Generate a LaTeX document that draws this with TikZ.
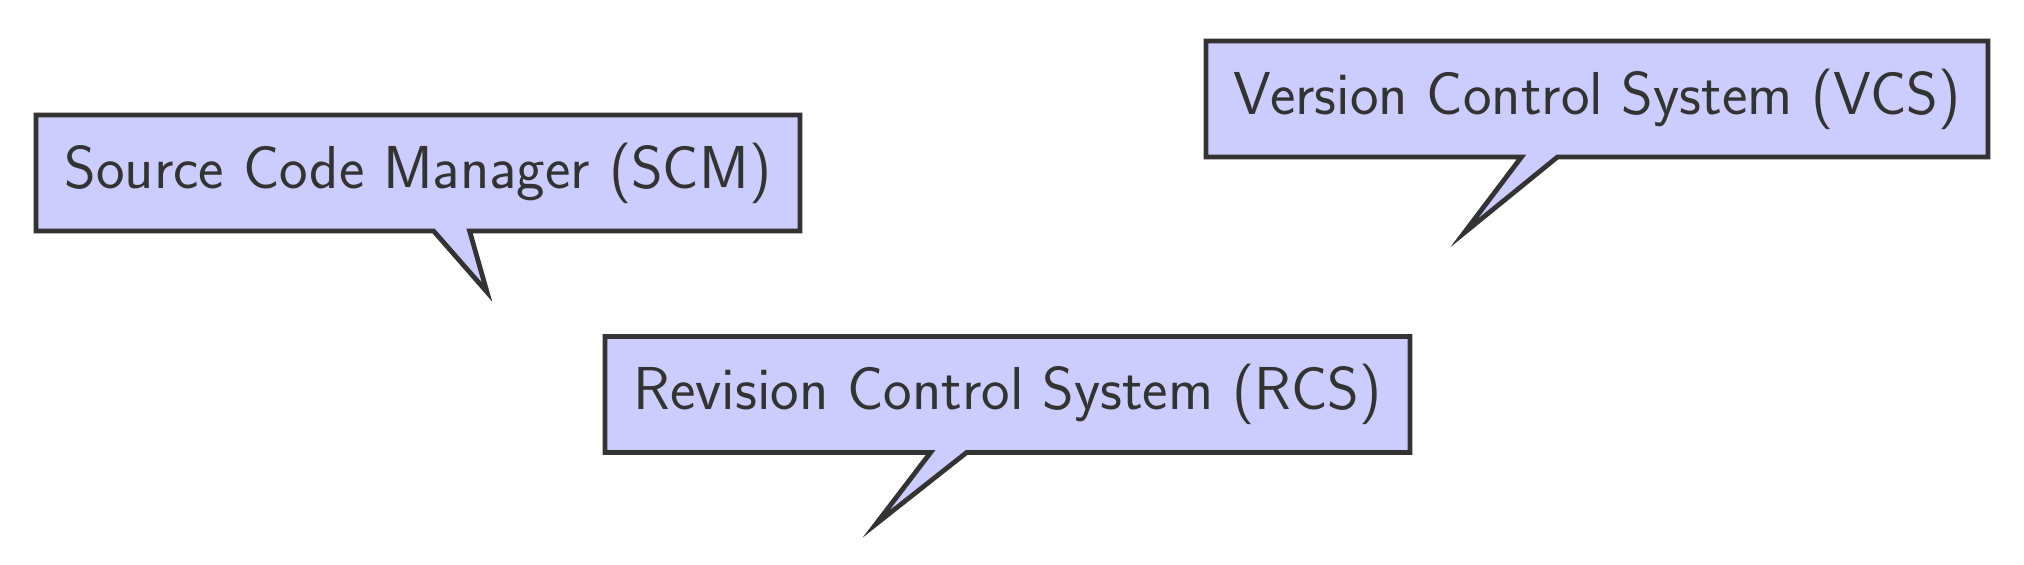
\documentclass[tikz,border=0pt]{standalone}
\usepackage{fontspec}
\usetikzlibrary{shapes.callouts}
\definecolor{boxfill}{HTML}{CCCCFF}
\definecolor{boxline}{HTML}{333333}
\tikzset{
  bubble/.style={rectangle callout, draw=boxline, fill=boxfill, text=boxline,
    line width=2.4pt, inner sep=0pt, minimum height=58pt, callout pointer width=18pt,
    font=\sffamily\fontsize{30.3}{36}\selectfont, align=center}
}
\begin{document}
\begin{tikzpicture}[x=0.5pt,y=-0.5pt]
\useasboundingbox (0,0) rectangle (2024,564);
\coordinate (tipS) at (487,292);
\coordinate (tipV) at (1464,233);
\coordinate (tipR) at (876,524);
\node[bubble, minimum width=382pt, callout absolute pointer={(tipS)}] (scm) at (418,173) {Source Code Manager (SCM)};
\node[bubble, minimum width=391pt, callout absolute pointer={(tipV)}] (vcs) at (1597,99) {Version Control System (VCS)};
\node[bubble, minimum width=402.5pt, callout absolute pointer={(tipR)}] (rcs) at (1007.5,394.5) {Revision Control System (RCS)};
\end{tikzpicture}
\end{document}
